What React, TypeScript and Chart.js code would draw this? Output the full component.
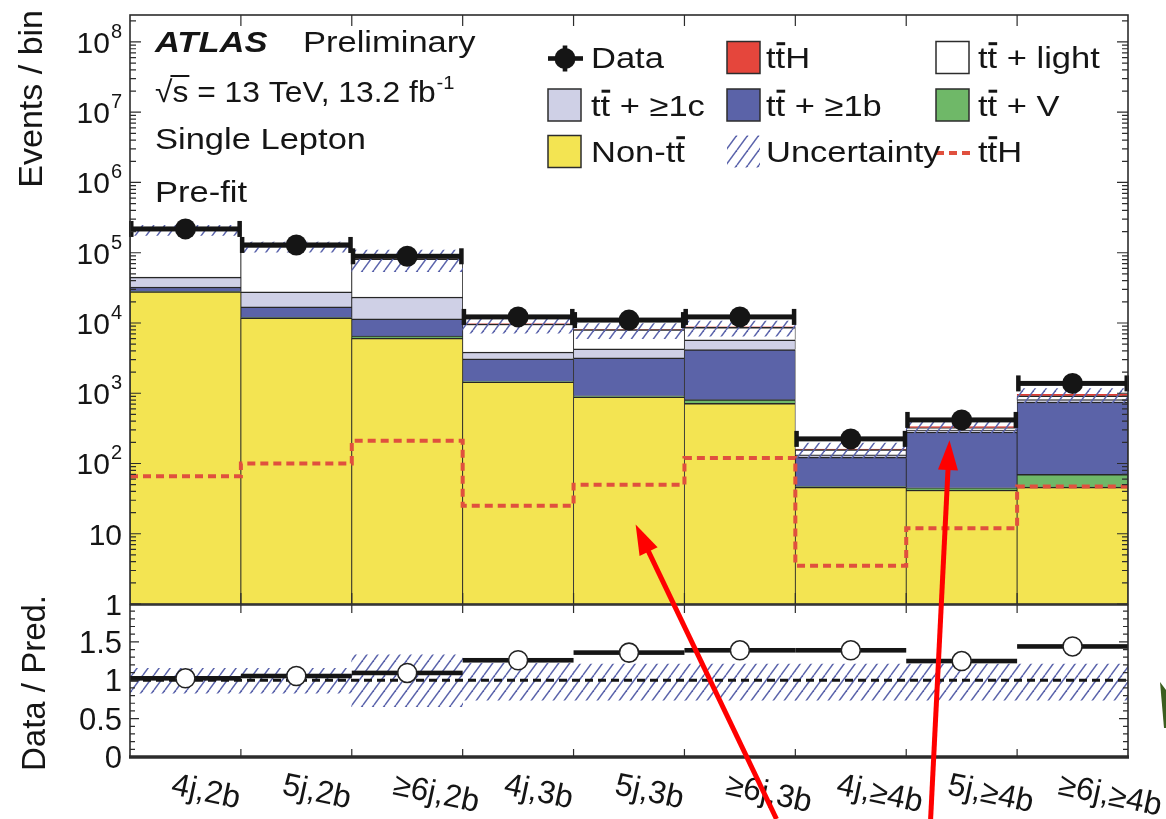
import React, { useEffect, useRef } from 'react';
import { Chart, registerables } from 'chart.js';

Chart.register(...registerables);

// ---------------- data ----------------
const categories = ['4j,2b', '5j,2b', '≥6j,2b', '4j,3b', '5j,3b', '≥6j,3b', '4j,≥4b', '5j,≥4b', '≥6j,≥4b'];

// stacked prediction, bottom to top (events / bin)
const nonTtbar = [28000, 11800, 6100, 1450, 890, 720, 46, 42, 46];
const ttV = [300, 150, 430, 20, 30, 90, 1, 3, 24];
const ttB = [4200, 5000, 4900, 1620, 2260, 3370, 76, 236, 680];
const ttC = [12500, 10700, 12000, 770, 1090, 1580, 10, 18, 60];
const ttLight = [167000, 95300, 58400, 5815, 3780, 2920, 24.5, 23, 108];
const ttH = [66, 100, 210, 25, 50, 120, 3.5, 12, 47];

const dataEvents = [218000, 129000, 89000, 12200, 11000, 12200, 224, 417, 1380];
const dataOverPred = [1.025, 1.055, 1.095, 1.26, 1.36, 1.39, 1.39, 1.25, 1.44];
const uncUp = [0.155, 0.155, 0.33, 0.22, 0.21, 0.21, 0.21, 0.21, 0.21];
const uncDown = [0.17, 0.17, 0.345, 0.26, 0.26, 0.26, 0.26, 0.26, 0.26];

const yMainMin = 1;
const yMainMax = 2.42e8;
const mainDecades = [0, 1, 2, 3, 4, 5, 6, 7, 8];
const ratioMin = 0;
const ratioMax = 1.98;
const ratioTickLabels = [0, 0.5, 1, 1.5];
const ratioReference = 1;

const yTitleMain = 'Events / bin';
const yTitleRatio = 'Data / Pred.';
const legendEntries = ['Data', 'tt\u0304H', 'tt\u0304 + light', 'tt\u0304 + ≥1c', 'tt\u0304 + ≥1b', 'tt\u0304 + V', 'Non-tt\u0304', 'Uncertainty', 'tt\u0304H'];

// annotation arrows (x in bin units, tip y in events)
const arrowTipX = [4.56, 7.39];
const arrowTipY = [13.5, 215];
const arrowTailX = [5.83, 7.22];

// ---------------- styles ----------------
const FONT = "'Liberation Sans', Arial, Helvetica, sans-serif";
const SX = 1.15;
const COL = {
  nonTt: '#f3e452',
  ttV: '#6fb868',
  ttB: '#5b63a8',
  ttC: '#cfd0e6',
  ttLight: '#ffffff',
  ttH: '#e5463c',
  ttHEdge: '#e03a30',
  ttHLine: '#e0503e',
  hatch: '#5a63ab',
  outline: '#262626',
  ink: '#151515',
  frame: '#2c2c2c',
  arrow: '#ff0000',
  sliver: '#3b5e1f',
};

function makeHatch(ctx: any) {
  const w = 11, h = 15;
  const c = document.createElement('canvas');
  c.width = w;
  c.height = h;
  const g = c.getContext('2d') as CanvasRenderingContext2D;
  g.strokeStyle = COL.hatch;
  g.lineWidth = 1.5;
  for (const k of [-w, 0, w]) {
    g.beginPath();
    g.moveTo(k, h);
    g.lineTo(k + w, 0);
    g.stroke();
  }
  return ctx.createPattern(c, 'repeat');
}

function putText(ctx: any, str: string, x: number, y: number, font: string, sx = 1, align = 'left') {
  ctx.save();
  ctx.font = font;
  ctx.textAlign = align;
  ctx.textBaseline = 'alphabetic';
  ctx.translate(x, y);
  ctx.scale(sx, 1);
  ctx.fillText(str, 0, 0);
  const w = ctx.measureText(str).width * sx;
  ctx.restore();
  return w;
}

// text where a combining macron (U+0304) puts a bar over the preceding letter
function putRich(ctx: any, str: string, x: number, y: number, size: number, sx = SX) {
  ctx.save();
  ctx.font = `${size}px ${FONT}`;
  ctx.textAlign = 'left';
  ctx.textBaseline = 'alphabetic';
  ctx.translate(x, y);
  ctx.scale(sx, 1);
  const ch = Array.from(str);
  let cx = 0;
  for (let k = 0; k < ch.length; k++) {
    if (ch[k] === '\u0304') continue;
    const w = ctx.measureText(ch[k]).width;
    ctx.fillText(ch[k], cx, 0);
    if (ch[k + 1] === '\u0304') ctx.fillRect(cx + w * 0.1, -size * 0.86, w * 0.9, size * 0.1);
    cx += w;
  }
  ctx.restore();
  return cx * sx;
}

function drawArrow(ctx: any, x0: number, y0: number, x1: number, y1: number) {
  const ang = Math.atan2(y1 - y0, x1 - x0);
  const len = 30, hw = 10;
  const bx = x1 - len * Math.cos(ang);
  const by = y1 - len * Math.sin(ang);
  ctx.save();
  ctx.strokeStyle = COL.arrow;
  ctx.fillStyle = COL.arrow;
  ctx.lineWidth = 5;
  ctx.beginPath();
  ctx.moveTo(x0, y0);
  ctx.lineTo(bx + 2 * Math.cos(ang), by + 2 * Math.sin(ang));
  ctx.stroke();
  ctx.beginPath();
  ctx.moveTo(x1, y1);
  ctx.lineTo(bx + hw * Math.sin(ang), by - hw * Math.cos(ang));
  ctx.lineTo(bx - hw * Math.sin(ang), by + hw * Math.cos(ang));
  ctx.closePath();
  ctx.fill();
  ctx.restore();
}

export default function App() {
  const upRef = useRef<HTMLCanvasElement | null>(null);
  const loRef = useRef<HTMLCanvasElement | null>(null);

  useEffect(() => {
    const upCanvas = upRef.current;
    const loCanvas = loRef.current;
    if (!upCanvas || !loCanvas) return;
    const W = 1166, H = 819;
    const L = 130, R = 1128, UT = 15, UB = 604, LT = 605, LB = 757;
    const nBins = categories.length;
    const upHatch = makeHatch(upCanvas.getContext('2d'));
    const loHatch = makeHatch(loCanvas.getContext('2d'));

    // ---------- upper panel datasets ----------
    const layerDefs = [
      { label: 'Non-tt̄', values: nonTtbar, fill: COL.nonTt, line: COL.outline },
      { label: 'tt̄ + V', values: ttV, fill: COL.ttV, line: COL.outline },
      { label: 'tt̄ + ≥1b', values: ttB, fill: COL.ttB, line: COL.outline },
      { label: 'tt̄ + ≥1c', values: ttC, fill: COL.ttC, line: COL.outline },
      { label: 'tt̄ + light', values: ttLight, fill: COL.ttLight, line: COL.outline },
      { label: 'tt̄H stacked', values: ttH, fill: COL.ttH, line: COL.ttHEdge },
    ];
    const running = new Array(nBins).fill(0);
    const layerSets = layerDefs.map((d) => ({
      type: 'bar',
      label: d.label,
      data: d.values.map((v, i) => {
        const lo = running[i];
        running[i] = lo + v;
        return { x: i + 0.5, y: [Math.max(lo, yMainMin), running[i]] };
      }),
      backgroundColor: d.fill,
      borderColor: d.line,
      borderWidth: { top: 1.5, left: 0.8, right: 0.8, bottom: 0 },
      borderSkipped: false,
      barPercentage: 1,
      categoryPercentage: 1,
      grouped: false,
      order: 10,
    }));
    const totals = running.slice();

    const tthLine = {
      type: 'line',
      label: 'tt̄H',
      data: [...ttH.map((v, i) => ({ x: i, y: v })), { x: nBins, y: ttH[nBins - 1] }],
      stepped: true,
      borderColor: COL.ttHLine,
      borderWidth: 4,
      borderDash: [8, 5],
      pointRadius: 0,
      fill: false,
      order: 6,
    };
    const uncSet = {
      type: 'bar',
      label: 'Uncertainty',
      data: totals.map((t, i) => ({ x: i + 0.5, y: [t * (1 - uncDown[i]), t * (1 + uncUp[i])] })),
      backgroundColor: upHatch,
      borderWidth: 0,
      barPercentage: 1,
      categoryPercentage: 1,
      grouped: false,
      order: 4,
    };
    const dataSet = {
      type: 'scatter',
      label: 'Data',
      data: dataEvents.map((v, i) => ({ x: i + 0.5, y: v })),
      pointRadius: 10.5,
      pointBackgroundColor: COL.ink,
      pointBorderColor: COL.ink,
      pointBorderWidth: 0,
      backgroundColor: COL.ink,
      borderColor: COL.ink,
      order: 1,
    };

    const upperErrorBars = {
      id: 'upperErrorBars',
      afterDatasetDraw(chart: any, args: any) {
        if (chart.data.datasets[args.index].label !== 'Uncertainty') return;
        const { ctx } = chart;
        const xs = chart.scales.x, ys = chart.scales.y;
        ctx.save();
        ctx.fillStyle = COL.ink;
        dataEvents.forEach((v, i) => {
          const py = ys.getPixelForValue(v);
          const x0 = xs.getPixelForValue(i), x1 = xs.getPixelForValue(i + 1);
          ctx.fillRect(x0, py - 2.5, x1 - x0, 5);
          ctx.fillRect(x0 - 1, py - 8, 4.5, 16);
          ctx.fillRect(x1 - 3.5, py - 8, 4.5, 16);
        });
        ctx.restore();
      },
    };

    const upperDecor = {
      id: 'upperDecor',
      afterDraw(chart: any) {
        const { ctx, chartArea: a } = chart;
        const xs = chart.scales.x, ys = chart.scales.y;
        ctx.save();
        ctx.strokeStyle = COL.frame;
        ctx.lineWidth = 1.2;
        ctx.beginPath();
        for (let i = 1; i < nBins; i++) {
          const px = xs.getPixelForValue(i);
          ctx.moveTo(px, a.bottom); ctx.lineTo(px, a.bottom - 11);
          ctx.moveTo(px, a.top); ctx.lineTo(px, a.top + 11);
        }
        for (const e of mainDecades) {
          for (let m = 1; m <= 9; m++) {
            const v = m * Math.pow(10, e);
            if (v > yMainMax) break;
            const py = ys.getPixelForValue(v);
            const len = m === 1 ? 11 : 6;
            ctx.moveTo(a.left, py); ctx.lineTo(a.left + len, py);
            ctx.moveTo(a.right, py); ctx.lineTo(a.right - len, py);
          }
        }
        ctx.stroke();
        ctx.lineWidth = 1.6;
        ctx.strokeRect(a.left, a.top, a.right - a.left, a.bottom - a.top);

        // y tick labels
        ctx.fillStyle = COL.ink;
        const rEdge = 122;
        const fMain = `30px ${FONT}`;
        for (const e of mainDecades) {
          const py = ys.getPixelForValue(Math.pow(10, e));
          if (e === 0) putText(ctx, '1', rEdge, py + 11, fMain, 1, 'right');
          else if (e === 1) putText(ctx, '10', rEdge, py + 11, fMain, 1, 'right');
          else {
            const sw = putText(ctx, String(e), rEdge, py - 4, `20px ${FONT}`, 1, 'right');
            putText(ctx, '10', rEdge - sw - 1, py + 11, fMain, 1, 'right');
          }
        }
        // y title
        ctx.save();
        ctx.translate(42, 10);
        ctx.rotate(-Math.PI / 2);
        ctx.font = `34px ${FONT}`;
        ctx.textAlign = 'right';
        ctx.textBaseline = 'alphabetic';
        ctx.fillText(yTitleMain, 0, 0);
        ctx.restore();

        // header text
        putText(ctx, 'ATLAS', 155, 52, `italic bold 30px ${FONT}`, SX);
        putText(ctx, 'Preliminary', 303, 52, `30px ${FONT}`, SX);
        let cx = 155;
        const f30 = `30px ${FONT}`;
        const sx2 = 1.06;
        cx += putText(ctx, '√', cx, 102, f30, sx2);
        const sw = putText(ctx, 's', cx, 102, f30, sx2);
        ctx.fillRect(cx - 2, 102 - 27, sw + 3, 2);
        cx += sw;
        cx += putText(ctx, ' = 13 TeV, 13.2 fb', cx, 102, f30, sx2);
        putText(ctx, '-1', cx + 1, 102 - 13, `19px ${FONT}`, sx2);
        putText(ctx, 'Single Lepton', 155, 149, f30, SX);
        putText(ctx, 'Pre-fit', 155, 202, f30, SX);

        // legend
        const cols = [548, 727, 936];
        const rows = [57.5, 105, 151.5];
        const bw = 33, bh = 32;
        const box = (c: number, r: number, fill: any, border = true) => {
          const x = cols[c], y = rows[r] - bh / 2;
          ctx.fillStyle = fill;
          ctx.fillRect(x, y, bw, bh);
          if (border) {
            ctx.strokeStyle = COL.frame;
            ctx.lineWidth = 1.5;
            ctx.strokeRect(x, y, bw, bh);
          }
        };
        // data marker
        ctx.fillStyle = COL.ink;
        const mx = cols[0] + 17, my = rows[0] + 1;
        ctx.fillRect(cols[0], my - 2.3, 35, 4.6);
        ctx.fillRect(mx - 2.3, my - 13, 4.6, 26);
        ctx.beginPath(); ctx.arc(mx, my, 10.5, 0, Math.PI * 2); ctx.fill();
        box(1, 0, COL.ttH);
        box(2, 0, COL.ttLight);
        box(0, 1, COL.ttC);
        box(1, 1, COL.ttB);
        box(2, 1, COL.ttV);
        box(0, 2, COL.nonTt);
        box(1, 2, upHatch, false);
        ctx.save();
        ctx.strokeStyle = COL.ttHLine;
        ctx.lineWidth = 4;
        ctx.setLineDash([8, 5]);
        ctx.beginPath();
        ctx.moveTo(cols[2], rows[2] + 1.5);
        ctx.lineTo(cols[2] + 34, rows[2] + 1.5);
        ctx.stroke();
        ctx.restore();
        ctx.fillStyle = COL.ink;
        const tx = [591, 766, 978];
        legendEntries.forEach((lab, k) => {
          const c = k % 3, r = Math.floor(k / 3);
          putRich(ctx, lab, tx[c], rows[r] + 10.5, 30, SX);
        });
        ctx.restore();
      },
    };

    const upper = new Chart(upCanvas, {
      type: 'bar',
      data: { datasets: [...layerSets, tthLine, uncSet, dataSet] as any },
      options: {
        responsive: false,
        animation: false,
        devicePixelRatio: 1,
        events: [],
        layout: { padding: { left: L, right: W - R, top: UT, bottom: H - UB } },
        plugins: { legend: { display: false }, tooltip: { enabled: false }, title: { display: false } },
        scales: {
          x: { type: 'linear', display: false, min: 0, max: nBins, offset: false, ticks: { stepSize: 1 } },
          y: { type: 'logarithmic', display: false, min: yMainMin, max: yMainMax },
        },
      } as any,
      plugins: [upperErrorBars, upperDecor],
    } as any);

    // ---------- ratio panel ----------
    const bandSet = {
      type: 'bar',
      label: 'Band',
      data: uncUp.map((u, i) => ({ x: i + 0.5, y: [ratioReference - uncDown[i], ratioReference + u] })),
      backgroundColor: loHatch,
      borderWidth: 0,
      barPercentage: 1,
      categoryPercentage: 1,
      grouped: false,
      order: 10,
    };
    const unitySet = {
      type: 'line',
      label: 'Unity',
      data: [{ x: 0, y: ratioReference }, { x: nBins, y: ratioReference }],
      borderColor: COL.ink,
      borderWidth: 3,
      borderDash: [8, 5],
      pointRadius: 0,
      fill: false,
      order: 5,
    };
    const ratioPoints = {
      type: 'scatter',
      label: 'Ratio',
      data: dataOverPred.map((r, i) => ({ x: i + 0.5, y: r })),
      pointRadius: 9.5,
      pointBackgroundColor: '#ffffff',
      pointBorderColor: '#222222',
      pointBorderWidth: 1.6,
      backgroundColor: '#ffffff',
      borderColor: '#222222',
      order: 1,
    };

    const ratioLines = {
      id: 'ratioLines',
      afterDatasetDraw(chart: any, args: any) {
        if (chart.data.datasets[args.index].label !== 'Unity') return;
        const { ctx } = chart;
        const xs = chart.scales.x, ys = chart.scales.y;
        ctx.save();
        ctx.fillStyle = COL.ink;
        dataOverPred.forEach((r, i) => {
          const py = ys.getPixelForValue(r);
          const x0 = xs.getPixelForValue(i), x1 = xs.getPixelForValue(i + 1);
          ctx.fillRect(x0, py - 2.3, x1 - x0, 4.6);
        });
        ctx.restore();
      },
    };

    const lowerDecor = {
      id: 'lowerDecor',
      afterDraw(chart: any) {
        const { ctx, chartArea: a } = chart;
        const xs = chart.scales.x, ys = chart.scales.y;
        ctx.save();
        ctx.strokeStyle = COL.frame;
        ctx.lineWidth = 1.2;
        ctx.beginPath();
        for (let i = 1; i < nBins; i++) {
          const px = xs.getPixelForValue(i);
          ctx.moveTo(px, a.bottom); ctx.lineTo(px, a.bottom - 8);
          ctx.moveTo(px, a.top); ctx.lineTo(px, a.top + 8);
        }
        for (let k = 0; k <= 20; k++) {
          const v = k / 10;
          if (v > ratioMax) break;
          const py = ys.getPixelForValue(v);
          const len = k % 5 === 0 ? 9 : 5;
          ctx.moveTo(a.left, py); ctx.lineTo(a.left + len, py);
          ctx.moveTo(a.right, py); ctx.lineTo(a.right - len, py);
        }
        ctx.stroke();
        ctx.lineWidth = 1.6;
        ctx.beginPath();
        ctx.moveTo(a.left, a.bottom); ctx.lineTo(a.left, a.top); ctx.lineTo(a.right, a.top); ctx.lineTo(a.right, a.bottom);
        ctx.stroke();
        ctx.lineWidth = 3.5;
        ctx.beginPath();
        ctx.moveTo(a.left - 1, a.bottom); ctx.lineTo(a.right + 1, a.bottom);
        ctx.stroke();

        // y labels
        ctx.fillStyle = COL.ink;
        ratioTickLabels.forEach((v) => {
          const py = ys.getPixelForValue(v);
          putText(ctx, String(v), 122, py + 11, `31px ${FONT}`, 1, 'right');
        });
        // y title
        ctx.save();
        ctx.translate(45, 683);
        ctx.rotate(-Math.PI / 2);
        ctx.font = `33px ${FONT}`;
        ctx.textAlign = 'center';
        ctx.textBaseline = 'alphabetic';
        ctx.fillText(yTitleRatio, 0, 0);
        ctx.restore();

        // x category labels (tilted)
        categories.forEach((c, i) => {
          const x0 = xs.getPixelForValue(i);
          ctx.save();
          ctx.translate(x0 + 40, 794);
          ctx.rotate((12 * Math.PI) / 180);
          ctx.font = `32px ${FONT}`;
          ctx.textAlign = 'left';
          ctx.textBaseline = 'alphabetic';
          ctx.fillText(c, 0, 0);
          ctx.restore();
        });

        // annotation arrows (drawn over both panels)
        const upY = upper.scales.y;
        arrowTipX.forEach((tx, k) => {
          drawArrow(ctx, xs.getPixelForValue(arrowTailX[k]), H, xs.getPixelForValue(tx), upY.getPixelForValue(arrowTipY[k]));
        });
        // partial green annotation at the right border
        ctx.fillStyle = COL.sliver;
        ctx.beginPath();
        ctx.moveTo(W - 6, 682);
        ctx.lineTo(W, 690);
        ctx.lineTo(W, 728);
        ctx.lineTo(W - 2, 728);
        ctx.closePath();
        ctx.fill();
        ctx.restore();
      },
    };

    const lower = new Chart(loCanvas, {
      type: 'bar',
      data: { datasets: [bandSet, unitySet, ratioPoints] as any },
      options: {
        responsive: false,
        animation: false,
        devicePixelRatio: 1,
        events: [],
        layout: { padding: { left: L, right: W - R, top: LT, bottom: H - LB } },
        plugins: { legend: { display: false }, tooltip: { enabled: false }, title: { display: false } },
        scales: {
          x: { type: 'linear', display: false, min: 0, max: nBins, offset: false, ticks: { stepSize: 1 } },
          y: { type: 'linear', display: false, min: ratioMin, max: ratioMax },
        },
      } as any,
      plugins: [ratioLines, lowerDecor],
    } as any);

    return () => {
      lower.destroy();
      upper.destroy();
    };
  }, []);

  return (
    <div style={{ position: 'absolute', left: 0, top: 0, width: 1166, height: 819, background: '#ffffff', overflow: 'hidden' }}>
      <canvas ref={upRef} width={1166} height={819} style={{ position: 'absolute', left: 0, top: 0, width: 1166, height: 819 }} />
      <canvas ref={loRef} width={1166} height={819} style={{ position: 'absolute', left: 0, top: 0, width: 1166, height: 819 }} />
    </div>
  );
}
